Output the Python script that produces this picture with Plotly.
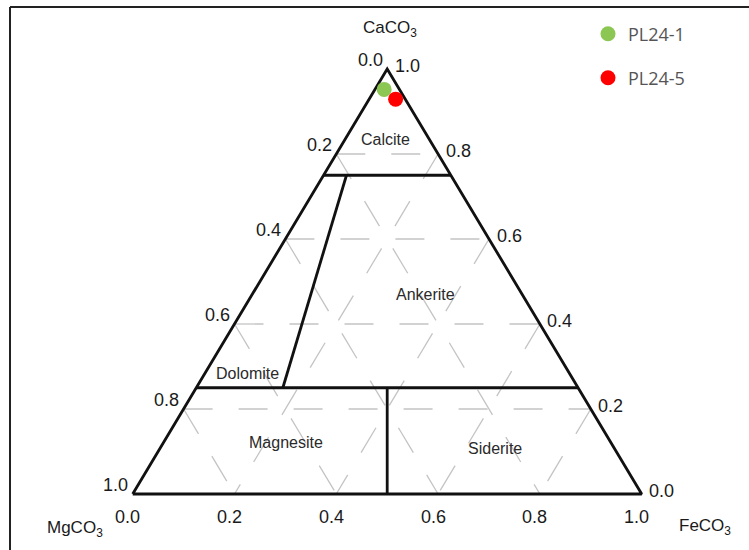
import plotly.graph_objects as go

# Carbonate compositions (mole fractions) of the two samples
samples = ["PL24-1", "PL24-5"]
caco3 = [0.952, 0.929]
mgco3 = [0.030, 0.019]
feco3 = [0.018, 0.052]
sample_colors = ["#8cc653", "#ff0000"]

# Gridline and tick values
grid_vals = [0.2, 0.4, 0.6, 0.8]
tick_vals = [0.0, 0.2, 0.4, 0.6, 0.8, 1.0]
tick_text = ["0.0", "0.2", "0.4", "0.6", "0.8", "1.0"]

# Field boundaries, each as (CaCO3, FeCO3) pairs
calcite_limit = [(0.75, 0.0), (0.75, 0.25)]
magnesite_limit = [(0.25, 0.0), (0.25, 0.75)]
siderite_limit = [(0.0, 0.5), (0.25, 0.375)]
dolomite_limit = [(0.25, 0.17), (0.75, 0.045)]

# Field names with (CaCO3, FeCO3) label anchors
field_names = ["Calcite", "Ankerite", "Dolomite", "Magnesite", "Siderite"]
field_ca = [0.833, 0.470, 0.284, 0.122, 0.108]
field_fe = [0.081, 0.340, 0.083, 0.240, 0.658]


def xy(ca, fe):
    """Ternary (Ca, Fe) -> plane coordinates: Mg at (0,0), Fe at (1,0), Ca at (0.5,1)."""
    return fe + ca / 2.0, ca


def seg(points):
    xs, ys = [], []
    for ca, fe in points:
        x, y = xy(ca, fe)
        xs.append(x)
        ys.append(y)
    return xs, ys


fig = go.Figure()

grid_style = dict(color="#c4c4c4", width=1.3, dash="29px,26px")
for v in grid_vals:
    # constant CaCO3
    xs, ys = seg([(v, 0.0), (v, 1 - v)])
    fig.add_trace(go.Scatter(x=xs, y=ys, mode="lines", line=grid_style,
                             hoverinfo="skip", showlegend=False))
    # constant FeCO3
    xs, ys = seg([(1 - v, v), (0.0, v)])
    fig.add_trace(go.Scatter(x=xs, y=ys, mode="lines", line=grid_style,
                             hoverinfo="skip", showlegend=False))
    # constant MgCO3
    xs, ys = seg([(1 - v, 0.0), (0.0, 1 - v)])
    fig.add_trace(go.Scatter(x=xs, y=ys, mode="lines", line=grid_style,
                             hoverinfo="skip", showlegend=False))

edge = dict(color="#111111", width=2.8)
xs, ys = seg([(0, 0), (0, 1), (1, 0), (0, 0)])
fig.add_trace(go.Scatter(x=xs, y=ys, mode="lines", line=edge,
                         hoverinfo="skip", showlegend=False))
for boundary in (calcite_limit, magnesite_limit, siderite_limit, dolomite_limit):
    xs, ys = seg(boundary)
    fig.add_trace(go.Scatter(x=xs, y=ys, mode="lines", line=edge,
                             hoverinfo="skip", showlegend=False))

# Sample points, each with its own legend entry
legend_ids = ["legend", "legend2"]
for name, ca, fe, col, lg in zip(samples, caco3, feco3, sample_colors, legend_ids):
    x, y = xy(ca, fe)
    fig.add_trace(go.Scatter(x=[x], y=[y], mode="markers", name=name,
                             marker=dict(size=15, color=col),
                             legend=lg, showlegend=True))

annotations = []
label_font = dict(family="Liberation Sans, Arial, sans-serif", size=18, color="#1a1a1a")

for v, t in zip(tick_vals, tick_text):
    # bottom axis: FeCO3
    x, y = xy(0.0, v)
    annotations.append(dict(x=x, y=y, text=t, showarrow=False, font=label_font,
                            xshift=-5, yshift=-23))
    # right edge: CaCO3
    x, y = xy(v, 1 - v)
    annotations.append(dict(x=x, y=y, text=t, showarrow=False, font=label_font,
                            xshift=20, yshift=3))
    # left edge: MgCO3
    x, y = xy(1 - v, 0.0)
    annotations.append(dict(x=x, y=y, text=t, showarrow=False, font=label_font,
                            xshift=-17, yshift=9))

title_font = dict(family="Liberation Sans, Arial, sans-serif", size=17, color="#1a1a1a")
x, y = xy(1.0, 0.0)
annotations.append(dict(x=x, y=y, text="CaCO<sub>3</sub>", showarrow=False,
                        font=title_font, xshift=3, yshift=40))
x, y = xy(0.0, 0.0)
annotations.append(dict(x=x, y=y, text="MgCO<sub>3</sub>", showarrow=False,
                        font=title_font, xshift=-58, yshift=-35))
x, y = xy(0.0, 1.0)
annotations.append(dict(x=x, y=y, text="FeCO<sub>3</sub>", showarrow=False,
                        font=title_font, xshift=63, yshift=-33))

field_font = dict(family="Liberation Sans, Arial, sans-serif", size=16, color="#2a2a2a")
for name, ca, fe in zip(field_names, field_ca, field_fe):
    x, y = xy(ca, fe)
    annotations.append(dict(x=x, y=y, text=name, showarrow=False, font=field_font))

W, H = 749, 550
# pixel placement of the triangle: Mg vertex at (132.7, 494), width 509 px, height 425 px
x0_px, base_px, w_px, h_px = 132.7, 494.0, 509.0, 425.0
x_range = [-x0_px / w_px, (W - x0_px) / w_px]
y_range = [(base_px - H) / h_px, base_px / h_px]

legend_style = dict(font=dict(family="Open Sans, sans-serif", size=18, color="#555555"),
                    bgcolor="rgba(0,0,0,0)", borderwidth=0,
                    xanchor="left", yanchor="middle")

fig.update_layout(
    width=W, height=H, autosize=False,
    margin=dict(l=0, r=0, t=0, b=0),
    paper_bgcolor="white", plot_bgcolor="white",
    xaxis=dict(range=x_range, visible=False, fixedrange=True),
    yaxis=dict(range=y_range, visible=False, fixedrange=True),
    annotations=annotations,
    legend=dict(x=588 / W, y=1 - 34 / H, **legend_style),
    legend2=dict(x=588 / W, y=1 - 78 / H, **legend_style),
    shapes=[
        dict(type="line", xref="paper", yref="paper", x0=10 / W, x1=1.0,
             y0=1 - 7 / H, y1=1 - 7 / H, line=dict(color="#222222", width=2)),
        dict(type="line", xref="paper", yref="paper", x0=10 / W, x1=10 / W,
             y0=1 - 7 / H, y1=0.0, line=dict(color="#222222", width=2)),
    ],
)

fig.write_html("out.html")
